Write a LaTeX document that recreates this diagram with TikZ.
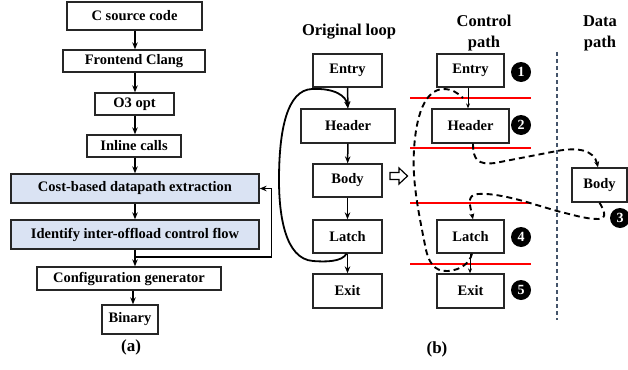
\documentclass[tikz,border=0pt]{standalone}
\usepackage{fontspec}
\setmainfont{Liberation Serif}
\usetikzlibrary{arrows.meta,calc}
\definecolor{hlblue}{HTML}{DAE3F3}
\definecolor{sepcol}{HTML}{44546A}
\begin{document}
\begin{tikzpicture}[x=1pt,y=-1pt,
 box/.style={draw=black!85, line width=1.3pt, inner sep=0pt, fill=white, font=\bfseries\fontsize{14.5}{16}\selectfont},
 hl/.style={box, fill=hlblue},
 arr/.style={line width=1.5pt, -{Stealth[length=7pt,width=5.5pt]}},
 thinarr/.style={line width=0.8pt, -{Stealth[length=5pt,width=4pt]}},
 dsh/.style={line width=1.9pt, dash pattern=on 6pt off 4pt},
 dsharr/.style={dsh, -{Stealth[length=6pt,width=5pt]}},
 redl/.style={red, line width=2.3pt},
 num/.style={circle, fill=black, text=white, inner sep=0pt, minimum size=20pt, font=\bfseries\fontsize{14}{14}\selectfont},
 ttl/.style={font=\bfseries\fontsize{16.5}{21}\selectfont, align=center, inner sep=0pt},
 sub/.style={font=\bfseries\fontsize{17}{20}\selectfont, inner sep=0pt},
]
\useasboundingbox (0,0) rectangle (628,369);

% ---------- (a) ----------
\node[box, minimum width=135pt, minimum height=28pt] (src) at (134.5,16) {C source code};
\node[box, minimum width=142pt, minimum height=22pt] (clang) at (134,61) {Frontend Clang};
\node[box, minimum width=79pt, minimum height=22pt] (o3) at (134.5,104) {O3 opt};
\node[box, minimum width=94pt, minimum height=22pt] (inl) at (134,146) {Inline calls};
\node[hl, minimum width=248pt, minimum height=29pt] (cost) at (135,188.5) {Cost-based datapath extraction};
\node[hl, minimum width=248pt, minimum height=29pt] (ident) at (135,234.5) {Identify inter-offload control flow};
\node[box, minimum width=184pt, minimum height=23pt] (conf) at (129,278.5) {Configuration generator};
\node[box, minimum width=56pt, minimum height=29pt] (bin) at (130,319.5) {Binary};
\node[sub] (la) at (131,347) {(a)};

\draw[arr] (src.south -| 135,0) -- (clang.north -| 135,0);
\draw[arr] (clang.south -| 135,0) -- (o3.north -| 135,0);
\draw[arr] (o3.south -| 135,0) -- (inl.north -| 135,0);
\draw[arr] (inl.south -| 135,0) -- (cost.north -| 135,0);
\draw[arr] (cost.south -| 135,0) -- (ident.north -| 135,0);
\draw[arr] (ident.south -| 135,0) -- (conf.north -| 135,0);
\draw[arr] (conf.south -| 133,0) -- (bin.north -| 133,0);
\coordinate (fb) at (135,257);
\draw[arr, line width=1.3pt] (fb) -| ($(cost.east)+(12,0)$) -- (cost.east);

% ---------- (b) titles ----------
\node[ttl] (t1) at (349,32) {Original loop};
\node[ttl] (t2) at (484,33) {Control\\path};
\node[ttl] (t3) at (600,33) {Data\\path};

% ---------- original loop ----------
\node[box, minimum width=69pt, minimum height=33pt] (oEntry) at (347.5,70.5) {Entry};
\node[box, minimum width=94pt, minimum height=34pt] (oHeader) at (348,126) {Header};
\node[box, minimum width=69pt, minimum height=33pt] (oBody) at (347.5,180.5) {Body};
\node[box, minimum width=69pt, minimum height=33pt] (oLatch) at (347.5,236.5) {Latch};
\node[box, minimum width=69pt, minimum height=34pt] (oExit) at (347.5,291) {Exit};

\draw[arr] (oEntry) -- (oHeader);
\draw[arr] (oHeader) -- (oBody);
\draw[arr] (oBody) -- (oLatch);
\draw[arr] (oLatch) -- (oExit);
\draw[arr, line width=1.8pt] ($(oLatch.south)+(-1,0)$) .. controls (342,262) and (325,262) .. (313,261)
  .. controls (285,259) and (279,215) .. (279,180)
  .. controls (279,130) and (287,90) .. (312,89)
  .. controls (335,88) and (346,96) .. (oHeader.north);

% hollow arrow
\draw[line width=1.2pt, fill=white] (390,172.5) -- (399,172.5) -- (399,168) -- (407.5,176) -- (399,184) -- (399,179.5) -- (390,179.5) -- cycle;

% ---------- separator ----------
\draw[sepcol, line width=1.8pt, dash pattern=on 4pt off 3pt] (557,52) -- (557,320);

% ---------- red lines ----------
\draw[redl] (410,98) -- (531,98);
\draw[redl] (410,148) -- (531,148);
\draw[redl] (410,203) -- (531,203);
\draw[redl] (410,264) -- (531,264);

% ---------- control path ----------
\node[box, minimum width=67pt, minimum height=33pt] (cEntry) at (470.5,70.5) {Entry};
\node[box, minimum width=77pt, minimum height=34pt] (cHeader) at (470.5,126) {Header};
\node[box, minimum width=67pt, minimum height=33pt] (cLatch) at (470.5,236.5) {Latch};
\node[box, minimum width=67pt, minimum height=34pt] (cExit) at (470.5,291) {Exit};
\node[box, minimum width=55pt, minimum height=34pt] (dBody) at (599.5,185) {Body};

\draw[thinarr] (cEntry.south -| 468,0) -- (cHeader.north -| 468,0);
\draw[thinarr] (cLatch.south -| 470,0) -- (cExit.north -| 470,0);

% dashed flows
\draw[dsh] ($(cLatch.south)+(1.5,0)$) .. controls (470,262) and (462,270) .. (448,271)
  .. controls (434,272) and (428,262) .. (425,245)
  .. controls (418,210) and (412,180) .. (414,150)
  .. controls (416,115) and (425,90) .. (443,89)
  .. controls (452,89) and (458,93) .. (463,98);
\draw[dsharr] ($(cHeader.south)+(2.5,0)$) .. controls (473,160) and (478,165) .. (495,163)
  -- (557,151) .. controls (578,147) and (594,150) .. ($(dBody.north)+(-1.5,0)$);
\draw[dsharr] (dBody.south) .. controls (604,210) and (608,219) .. (598,219)
  .. controls (585,219) and (570,214) .. (557,211) -- (530,203)
  .. controls (510,197) and (490,193) .. (478,194)
  .. controls (466,195) and (470,205) .. ($(cLatch.north)+(2.5,0)$);

% numbers
\node[num] (n1) at (521,72) {1};
\node[num] (n2) at (521,125) {2};
\node[num] (n3) at (620,218) {3};
\node[num] (n4) at (521,237) {4};
\node[num] (n5) at (521,290) {5};

\node[sub] (lb) at (437,349) {(b)};
\end{tikzpicture}
\end{document}
